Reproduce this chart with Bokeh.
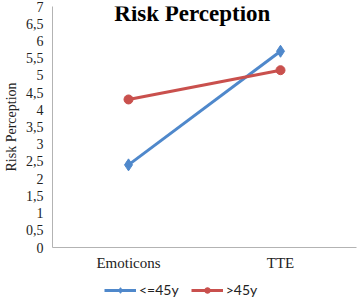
from bokeh.plotting import figure
from bokeh.models import FactorRange, Range1d, FixedTicker, Legend, LegendItem, Label
from bokeh.layouts import column
from bokeh.embed import file_html
from bokeh.resources import INLINE

categories = ["Emoticons", "TTE"]
young = [2.4, 5.7]
old = [4.3, 5.15]
series_names = ["<=45y", ">45y"]
y_ticks = [0, 0.5, 1, 1.5, 2, 2.5, 3, 3.5, 4, 4.5, 5, 5.5, 6, 6.5, 7]
y_tick_labels = ["0", "0,5", "1", "1,5", "2", "2,5", "3", "3,5", "4", "4,5", "5", "5,5", "6", "6,5", "7"]

BLUE = "#4F88CB"
RED = "#C9504D"
SERIF = "Liberation Serif"

p = figure(width=358, height=273, x_range=FactorRange(*categories, range_padding=0),
           y_range=Range1d(0, 7), output_backend="svg", toolbar_location=None,
           min_border_left=50, min_border_right=2, min_border_top=6, min_border_bottom=25)
p.outline_line_color = None
p.xgrid.visible = False
p.ygrid.visible = False

p.line(categories, young, line_color=BLUE, line_width=3)
p.scatter(categories, young, marker="diamond", size=12, fill_color=BLUE, line_color=BLUE)
p.line(categories, old, line_color=RED, line_width=3)
p.scatter(categories, old, marker="circle", size=9, fill_color=RED, line_color=RED)

p.yaxis.ticker = FixedTicker(ticks=y_ticks)
p.yaxis.major_label_overrides = {t: l for t, l in zip(y_ticks, y_tick_labels)}
for ax in (p.xaxis[0], p.yaxis[0]):
    ax.major_tick_out = 0
    ax.major_tick_in = 0
    ax.minor_tick_out = 0
    ax.minor_tick_in = 0
    ax.axis_line_color = "#B3B3B3"
    ax.axis_line_width = 1
    ax.major_label_text_font = SERIF
    ax.major_label_text_font_size = "14px"
    ax.major_label_text_color = "#222222"
p.xaxis.major_label_text_font_size = "15px"
p.yaxis.major_label_standoff = 9
p.xaxis.major_label_standoff = 7
p.yaxis.axis_label = "Risk Perception"
p.yaxis.axis_label_text_font = SERIF
p.yaxis.axis_label_text_font_size = "14px"
p.yaxis.axis_label_text_font_style = "normal"
p.yaxis.axis_label_text_color = "#222222"
p.yaxis.axis_label_standoff = 4

title = Label(x=0.92, y=6.8, text="Risk Perception", text_font=SERIF, text_font_style="bold",
              text_font_size="23px", text_align="center", text_baseline="middle", text_color="black")
p.add_layout(title)

# legend strip below the chart
lf = figure(width=358, height=25, x_range=Range1d(0, 1), y_range=Range1d(100, 101),
            output_backend="svg", toolbar_location=None,
            min_border_left=0, min_border_right=0, min_border_top=0, min_border_bottom=0)
lf.axis.visible = False
lf.grid.visible = False
lf.outline_line_color = None
xs = [0, 1]
l1 = lf.line(xs, young, line_color=BLUE, line_width=3)
m1 = lf.scatter(xs, young, marker="diamond", size=12, fill_color=BLUE, line_color=BLUE)
l2 = lf.line(xs, old, line_color=RED, line_width=3)
m2 = lf.scatter(xs, old, marker="circle", size=9, fill_color=RED, line_color=RED)
legend = Legend(items=[LegendItem(label=series_names[0], renderers=[l1, m1]),
                       LegendItem(label=series_names[1], renderers=[l2, m2])],
                orientation="horizontal", location=(52, 0), glyph_width=32, glyph_height=14,
                label_standoff=3, spacing=12, padding=4, margin=0,
                label_text_font="Lato", label_text_font_size="14px", label_text_color="#222222",
                border_line_color=None, background_fill_alpha=0)
lf.add_layout(legend)

layout = column(p, lf, spacing=0)
open("out.html", "w").write(file_html(layout, INLINE))
